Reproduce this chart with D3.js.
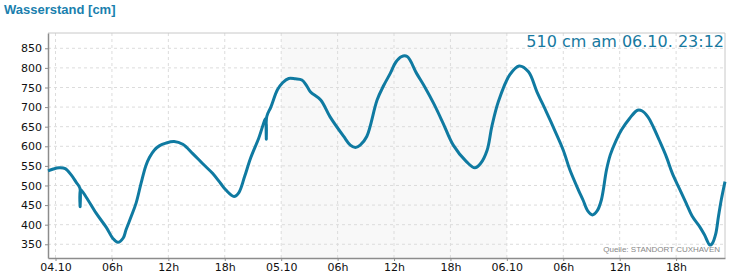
<!DOCTYPE html>
<html>
<head>
<meta charset="utf-8">
<script src="https://cdn.jsdelivr.net/npm/d3@7"></script>
<style>
  body { margin: 0; background: #fff; }
  svg { display: block; font-family: 'DejaVu Sans', sans-serif; }
  .grid line { stroke: #dcdcdc; stroke-dasharray: 3,3; }
  .axis path, .axis line { stroke: #8c8c8c; }
  .axis text { font-size: 11px; fill: #111; font-family: 'DejaVu Sans', sans-serif; }
</style>
</head>
<body>
<div id="chart"></div>
<script>
// Pegel Cuxhaven, Zeitpunkte und Wasserstand in cm
const times = [
  '03.10. 23:12', '03.10. 23:46', '04.10. 00:23', '04.10. 01:02', '04.10. 01:40', '04.10. 02:12',
  '04.10. 02:35', '04.10. 02:37', '04.10. 02:39', '04.10. 03:16', '04.10. 04:18', '04.10. 05:24',
  '04.10. 06:06', '04.10. 06:38', '04.10. 07:12', '04.10. 07:30', '04.10. 08:02', '04.10. 08:34',
  '04.10. 09:06', '04.10. 09:36', '04.10. 10:00', '04.10. 10:30', '04.10. 11:02', '04.10. 11:44',
  '04.10. 12:37', '04.10. 13:32', '04.10. 14:34', '04.10. 15:38', '04.10. 16:42', '04.10. 17:34',
  '04.10. 18:06', '04.10. 18:59', '04.10. 19:30', '04.10. 20:06', '04.10. 20:45', '04.10. 21:36',
  '04.10. 22:22', '04.10. 22:25', '04.10. 22:28', '04.10. 22:54', '04.10. 23:36', '05.10. 00:09',
  '05.10. 00:48', '05.10. 01:30', '05.10. 02:12', '05.10. 02:42', '05.10. 03:06', '05.10. 04:12',
  '05.10. 05:12', '05.10. 06:39', '05.10. 07:21', '05.10. 07:54', '05.10. 08:24', '05.10. 09:06',
  '05.10. 10:12', '05.10. 10:54', '05.10. 11:36', '05.10. 12:12', '05.10. 12:48', '05.10. 13:24',
  '05.10. 14:24', '05.10. 15:18', '05.10. 16:12', '05.10. 17:12', '05.10. 18:18', '05.10. 19:42',
  '05.10. 20:36', '05.10. 21:12', '05.10. 21:54', '05.10. 22:24', '05.10. 23:06', '06.10. 00:18',
  '06.10. 01:18', '06.10. 02:18', '06.10. 03:12', '06.10. 04:12', '06.10. 05:06', '06.10. 06:00',
  '06.10. 06:42', '06.10. 07:36', '06.10. 08:06', '06.10. 08:36', '06.10. 09:06', '06.10. 09:36',
  '06.10. 10:03', '06.10. 10:36', '06.10. 11:00', '06.10. 11:36', '06.10. 12:12', '06.10. 13:03',
  '06.10. 13:54', '06.10. 14:24', '06.10. 15:00', '06.10. 15:36', '06.10. 16:12', '06.10. 16:58',
  '06.10. 17:36', '06.10. 18:21', '06.10. 19:04', '06.10. 19:42', '06.10. 20:30', '06.10. 21:00',
  '06.10. 21:36', '06.10. 21:51', '06.10. 22:12', '06.10. 22:30', '06.10. 22:48', '06.10. 23:12'
]
const levels = [
  537, 542, 545, 543, 527, 508,
  494, 446, 490, 470, 430, 393,
  365, 355, 366, 387, 420, 455,
  506, 550, 572, 590, 601, 608,
  612, 605, 582, 556, 531, 505,
  489, 472, 482, 522, 570, 620,
  671, 618, 676, 700, 744, 762,
  773, 772, 769, 755, 739, 718,
  675, 625, 603, 597, 603, 625,
  718, 755, 786, 815, 829, 829,
  786, 750, 710, 660, 603, 561,
  545, 556, 590, 650, 714, 782,
  805, 790, 739, 688, 640, 590,
  540, 489, 463, 435, 425, 435,
  463, 540, 578, 614, 642, 671,
  692, 690, 675, 648, 616, 573,
  531, 492, 455, 422, 395, 375,
  348, 352, 375, 420, 463, 510
]
const yTicks = [350, 400, 450, 500, 550, 600, 650, 700, 750, 800, 850]
const shadedDay = ['05.10. 00:00', '06.10. 00:00']
const timeRange = ['03.10. 23:12', '06.10. 23:12']
const levelRange = [315, 889]
const title = 'Wasserstand [cm]'
const current = '510 cm am 06.10. 23:12'
const source = 'Quelle: STANDORT CUXHAVEN'

const parse = d3.timeParse('%d.%m. %H:%M')
const data = times.map((t, i) => ({ t: parse(t), v: levels[i] }))

const width = 733, height = 280
const m = { left: 48, right: 8, top: 33, bottom: 22 }

const svg = d3.select('#chart').append('svg')
  .attr('width', width)
  .attr('height', height)

const x = d3.scaleTime()
  .domain(timeRange.map(parse))
  .range([m.left, width - m.right])

const y = d3.scaleLinear()
  .domain(levelRange)
  .range([height - m.bottom, m.top])

// Tageshintergrund
svg.append('rect')
  .attr('x', x(parse(shadedDay[0])))
  .attr('y', m.top)
  .attr('width', x(parse(shadedDay[1])) - x(parse(shadedDay[0])))
  .attr('height', height - m.bottom - m.top)
  .attr('fill', '#f8f8f8')

const xTicks = d3.timeHour.every(6).range(parse('04.10. 00:00'), parse('06.10. 23:00'))
const xFmt = d => d.getHours() === 0 ? d3.timeFormat('%d.%m')(d) : d3.timeFormat('%Hh')(d)

// Gitter
svg.append('g').attr('class', 'grid')
  .selectAll('line').data(yTicks).join('line')
  .attr('x1', m.left).attr('x2', width - m.right)
  .attr('y1', d => y(d)).attr('y2', d => y(d))

svg.append('g').attr('class', 'grid')
  .selectAll('line').data(xTicks).join('line')
  .attr('x1', d => x(d)).attr('x2', d => x(d))
  .attr('y1', m.top).attr('y2', height - m.bottom)

// Rahmen oben / rechts
svg.append('path')
  .attr('d', `M${m.left},${m.top}H${width - m.right}V${height - m.bottom}`)
  .attr('fill', 'none')
  .attr('stroke', '#c8c8c8')

svg.append('g').attr('class', 'axis')
  .attr('transform', `translate(${m.left},0)`)
  .call(d3.axisLeft(y).tickValues(yTicks).tickSize(3).tickPadding(3).tickSizeOuter(0))
  .call(g => g.select('.domain').attr('stroke-width', 1.5))

svg.append('g').attr('class', 'axis')
  .attr('transform', `translate(0,${height - m.bottom})`)
  .call(d3.axisBottom(x).tickValues(xTicks).tickFormat(xFmt).tickSize(3).tickPadding(2).tickSizeOuter(0))
  .call(g => g.select('.domain').attr('stroke-width', 1.5))

// Ganglinie
const line = d3.line()
  .x(d => x(d.t))
  .y(d => y(d.v))
  .curve(d3.curveCatmullRom.alpha(0.5))

svg.append('path')
  .datum(data)
  .attr('fill', 'none')
  .attr('stroke', '#0f7aa1')
  .attr('stroke-width', 3)
  .attr('stroke-linejoin', 'round')
  .attr('d', line)

svg.append('text')
  .attr('x', 4)
  .attr('y', 14)
  .attr('font-family', 'Liberation Sans, Arial, sans-serif')
  .attr('font-weight', 'bold')
  .attr('font-size', 13)
  .attr('fill', '#1a7fae')
  .text(title)

svg.append('text')
  .attr('x', width - 9)
  .attr('y', 47)
  .attr('text-anchor', 'end')
  .attr('font-size', 16)
  .attr('fill', '#17799f')
  .text(current)

svg.append('text')
  .attr('x', width - 13)
  .attr('y', 252)
  .attr('text-anchor', 'end')
  .attr('font-family', 'Liberation Sans, Arial, sans-serif')
  .attr('font-size', 8)
  .attr('fill', '#888')
  .text(source)
</script>
</body>
</html>
